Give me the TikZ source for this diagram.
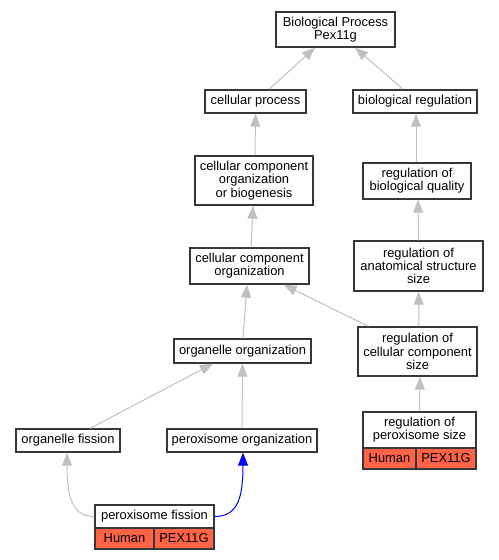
\documentclass[tikz,border=0pt]{standalone}
\usepackage{fontspec}
\setmainfont{Liberation Sans}
\usetikzlibrary{arrows.meta}
\definecolor{edgegray}{RGB}{192,192,192}
\definecolor{tomatored}{RGB}{255,99,71}
\definecolor{boxline}{RGB}{55,55,55}
\tikzset{
  term/.style={draw=boxline, line width=1.3bp, fill=white, inner sep=0pt, align=center,
    font=\fontsize{12.9bp}{13.3bp}\selectfont},
  gene/.style={term, fill=tomatored},
  isa/.style={draw=edgegray, line width=1bp, -{Triangle[length=13bp,width=10bp]}},
  anno/.style={draw=blue, line width=1bp, -{Triangle[length=13bp,width=10bp]}},
}
\begin{document}
\begin{tikzpicture}[x=1bp,y=-1bp]
\useasboundingbox (0,0) rectangle (499,560);
% terms
\node[term, minimum width=119bp, minimum height=35bp] (bp) at (335.5,29.5) {Biological Process\\Pex11g};
\node[term, minimum width=101bp, minimum height=23bp] (cp) at (255.5,101.5) {cellular process};
\node[term, minimum width=124bp, minimum height=23bp] (br) at (415,101.5) {biological regulation};
\node[term, minimum width=118bp, minimum height=49bp] (ccob) at (254,180.5) {cellular component\\organization\\or biogenesis};
\node[term, minimum width=108bp, minimum height=36bp] (rbq) at (417,181) {regulation of\\biological quality};
\node[term, minimum width=119bp, minimum height=36bp] (cco) at (249.5,266) {cellular component\\organization};
\node[term, minimum width=129bp, minimum height=50bp] (rass) at (418.5,266) {regulation of\\anatomical structure\\size};
\node[term, minimum width=137bp, minimum height=24bp] (oo) at (242.5,351) {organelle organization};
\node[term, minimum width=119bp, minimum height=49bp] (rccs) at (417.5,351.5) {regulation of\\cellular component\\size};
\node[term, minimum width=104bp, minimum height=23bp] (of) at (68,440.5) {organelle fission};
\node[term, minimum width=150bp, minimum height=23bp] (po) at (242,440.5) {peroxisome organization};
\node[term, minimum width=113bp, minimum height=36bp] (rps) at (419.5,430) {regulation of\\peroxisome size};
\node[gene, minimum width=53bp, minimum height=21bp] (rpsH) at (389.5,458.5) {Human};
\node[gene, minimum width=60bp, minimum height=21bp] (rpsG) at (446,458.5) {PEX11G};
\node[term, minimum width=119bp, minimum height=23bp] (pf) at (154.5,516.5) {peroxisome fission};
\node[gene, minimum width=59bp, minimum height=21bp] (pfH) at (124.5,538.5) {Human};
\node[gene, minimum width=60bp, minimum height=21bp] (pfG) at (184,538.5) {PEX11G};
% edges
\draw[isa] ([xshift=13.5bp]cp.north) -- ([xshift=-20.5bp]bp.south);
\draw[isa] ([xshift=-12bp]br.north) -- ([xshift=19.5bp]bp.south);
\draw[isa] ([xshift=1bp]ccob.north) -- (cp.south);
\draw[isa] ([xshift=-1bp]rbq.north) -- ([xshift=1bp]br.south);
\draw[isa] ([xshift=1.5bp]cco.north) -- ([xshift=-1bp]ccob.south);
\draw[isa] (rass.north) -- ([xshift=1bp]rbq.south);
\draw[isa] ([xshift=0.5bp]oo.north) -- ([xshift=-2.5bp]cco.south);
\draw[isa] ([xshift=11bp]rccs.north west) -- ([xshift=-26bp]cco.south east);
\draw[isa] ([xshift=1.5bp]rccs.north) -- (rass.south);
\draw[isa] (rps.north) -- ([xshift=2.5bp]rccs.south);
\draw[isa] ([xshift=22bp]of.north) -- ([xshift=-29.5bp]oo.south);
\draw[isa] (po.north) -- (oo.south);
\draw[isa] (pf.west) .. controls (72,516.5) and (67,497) .. ([xshift=-1bp]of.south);
\draw[anno] (pf.east) .. controls (238,516.5) and (243,497) .. ([xshift=1bp]po.south);
\end{tikzpicture}
\end{document}
